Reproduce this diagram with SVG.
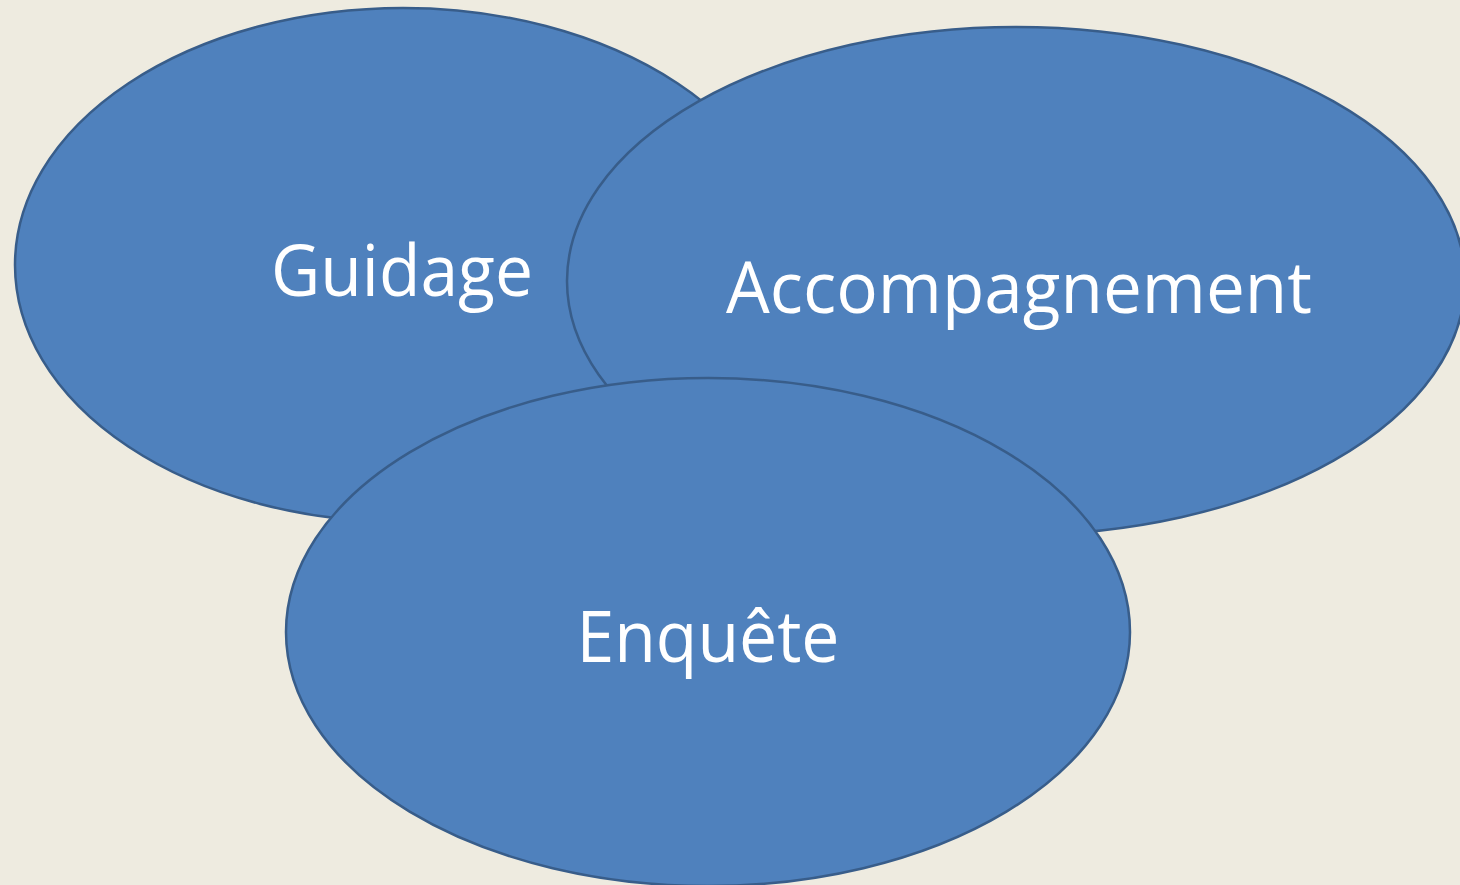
<svg xmlns="http://www.w3.org/2000/svg" width="1460" height="885" viewBox="0 0 1460 885">
  <style>
    .bubble { fill: #4F81BD; stroke: #385D8A; stroke-width: 2.5; }
    .label { fill: #FFFFFF; font-family: "Open Sans", "Liberation Sans", sans-serif; font-size: 72px; text-anchor: middle; }
  </style>
  <rect x="0" y="0" width="1460" height="885" fill="#EEEBE0"/>
  <g id="guidage">
    <ellipse class="bubble" cx="403" cy="265" rx="388" ry="257"/>
    <text class="label" x="402" y="296" textLength="262" lengthAdjust="spacingAndGlyphs">Guidage</text>
  </g>
  <g id="accompagnement">
    <ellipse class="bubble" cx="1016" cy="281" rx="449" ry="254"/>
    <text class="label" x="1019" y="313" textLength="586" lengthAdjust="spacingAndGlyphs">Accompagnement</text>
  </g>
  <g id="enquete">
    <ellipse class="bubble" cx="708" cy="632" rx="422" ry="254"/>
    <text class="label" x="708" y="662" textLength="263" lengthAdjust="spacingAndGlyphs">Enquête</text>
  </g>
  <g id="connectors"/>
</svg>
